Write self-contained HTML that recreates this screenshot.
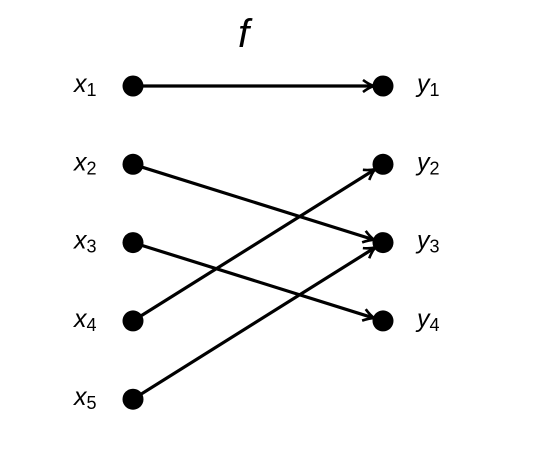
<!DOCTYPE html>
<html><head><meta charset="utf-8"><style>
html,body{margin:0;padding:0;background:#fff;}
svg text{font-family:"Liberation Sans",sans-serif;fill:#000;}
</style></head><body>
<svg id="chart" width="541" height="461" viewBox="0 0 541 461">
<defs><marker id="ah" markerWidth="14" markerHeight="14" refX="11" refY="7" orient="auto" markerUnits="userSpaceOnUse">
<path d="M1,1 Q7,5.5 12,7 Q7,8.5 1,13" fill="none" stroke="#000" stroke-width="2.6"/></marker></defs>
<text x="238" y="47" font-size="40" font-style="italic">f</text>
<g id="g"></g>
</svg>
<script>
const domain = ["1","2","3","4","5"];
const codomain = ["1","2","3","4"];
const mapping = [1,3,4,2,3];
const leftX = 133, rightX = 383, y0 = 86, dy = 78.3;
const yPos = i => y0 + i*dy;
const g = document.getElementById('g');
const NS = 'http://www.w3.org/2000/svg';
function mk(t,a){const e=document.createElementNS(NS,t);for(const k in a)e.setAttribute(k,a[k]);g.appendChild(e);return e;}
mapping.forEach((m,i)=>{
  const x1=leftX,y1=yPos(i),x2=rightX,y2=yPos(m-1);
  const L=Math.hypot(x2-x1,y2-y1),s=(L-10)/L;
  const l=mk('line',{x1:x1,y1:y1,x2:x1+(x2-x1)*s,y2:y1+(y2-y1)*s,stroke:'#000','stroke-width':3.2,'marker-end':'url(#ah)'});
  
  
});
domain.forEach((d,i)=>{
  const c=mk('circle',{cx:leftX,cy:yPos(i),r:10.5,fill:'#000'});
  
  
  const t=mk('text',{x:74,y:yPos(i)+6,'font-size':25,'font-style':'italic'});
  t.innerHTML='x<tspan font-size="18" font-style="normal" dy="4">'+d+'</tspan>';
  
  
});
codomain.forEach((d,i)=>{
  const c=mk('circle',{cx:rightX,cy:yPos(i),r:10.5,fill:'#000'});
  
  
  const t=mk('text',{x:417,y:yPos(i)+6,'font-size':25,'font-style':'italic'});
  t.innerHTML='y<tspan font-size="18" font-style="normal" dy="4">'+d+'</tspan>';
  
  
});
</script>
</body></html>
